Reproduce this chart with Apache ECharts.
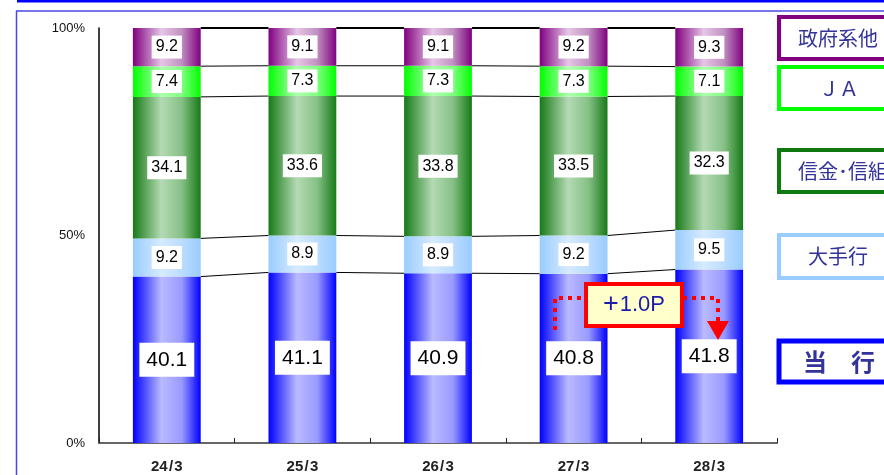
<!DOCTYPE html>
<html>
<head>
<meta charset="utf-8">
<script src="https://cdn.jsdelivr.net/npm/echarts@6/dist/echarts.min.js"></script>
<style>
  html, body { margin: 0; padding: 0; background: #fff; }
  #chart { width: 884px; height: 475px; }
</style>
</head>
<body>
<div id="chart"></div>
<script>
// Fiscal year-ends (category axis)
const categories = ['24/3', '25/3', '26/3', '27/3', '28/3'];

// Lending share by institution type (%), stacked bottom to top
const shareTogyo   = [40.1, 41.1, 40.9, 40.8, 41.8]; // 当行
const shareOote    = [9.2, 8.9, 8.9, 9.2, 9.5];      // 大手行
const shareShinkin = [34.1, 33.6, 33.8, 33.5, 32.3]; // 信金・信組
const shareJA      = [7.4, 7.3, 7.3, 7.3, 7.1];      // ＪＡ
const shareSeifu   = [9.2, 9.1, 9.1, 9.2, 9.3];      // 政府系他

const yTicks = [0, 50, 100];

const FONT = '"Liberation Sans", Arial, sans-serif';
const JFONT = '"Noto Sans CJK JP", sans-serif';

function cylinder(edge, light, mid) {
  return new echarts.graphic.LinearGradient(0, 0, 1, 0, [
    { offset: 0, color: edge },
    { offset: 0.42, color: light },
    { offset: 0.72, color: mid },
    { offset: 1, color: edge }
  ]);
}

const layers = [
  { name: '当行', data: shareTogyo, color: cylinder('#0000ff', '#babaff', '#9a9aff'), big: true },
  { name: '大手行', data: shareOote, color: cylinder('#99ccff', '#d6ebff', '#bcdcff') },
  { name: '信金・信組', data: shareShinkin, color: cylinder('#177a17', '#b4dab4', '#86c086') },
  { name: 'ＪＡ', data: shareJA, color: cylinder('#00ff00', '#b0ffb0', '#80ff80') },
  { name: '政府系他', data: shareSeifu, color: cylinder('#800080', '#e6c6e6', '#c090c0') }
];

// Cumulative tops of each layer, used for the connector lines between bars
const cumulative = [];
(function () {
  const run = categories.map(() => 0);
  layers.forEach(l => {
    l.data.forEach((v, i) => { run[i] += v; });
    cumulative.push(run.map(v => Math.round(v * 10) / 10));
  });
})();

const barSeries = layers.map(l => ({
  name: l.name,
  type: 'bar',
  stack: 'share',
  barWidth: '50%',
  data: l.data,
  itemStyle: { color: l.color },
  label: {
    show: true,
    position: 'inside',
    formatter: p => p.value.toFixed(1),
    backgroundColor: '#ffffff',
    color: '#000',
    fontFamily: FONT,
    fontSize: l.big ? 21 : 16,
    padding: l.big ? [7, 7, 6, 7] : [4, 4, 3, 4]
  },
  emphasis: { disabled: true }
}));

// Connector lines linking each layer boundary from one bar to the next
const connectorData = categories.slice(0, -1).map((c, i) => [i]);
const connectorSeries = {
  type: 'custom',
  silent: true,
  data: connectorData,
  renderItem: function (params, api) {
    const i = api.value(0);
    const half = api.size([1, 0])[0] * 0.25;
    const children = cumulative.map((cum, k) => {
      const a = api.coord([i, cum[i]]);
      const b = api.coord([i + 1, cum[i + 1]]);
      return {
        type: 'line',
        shape: { x1: a[0] + half, y1: a[1], x2: b[0] - half, y2: b[1] },
        style: { stroke: '#000', lineWidth: k === cumulative.length - 1 ? 2 : 1 }
      };
    });
    return { type: 'group', children: children };
  },
  z: 1
};

function legendBox(y, h, text, stroke, opts) {
  opts = opts || {};
  return [
    {
      type: 'rect',
      shape: { x: 779, y: y, width: 120, height: h },
      style: { fill: '#fff', stroke: stroke, lineWidth: opts.lw || 4 }
    },
    {
      type: 'text',
      x: opts.cx || 837, y: y + h / 2,
      style: {
        text: text,
        fill: '#333399',
        font: (opts.bold ? 'bold ' : '') + (opts.fs || 20) + 'px ' + JFONT,
        align: 'center',
        verticalAlign: 'middle'
      }
    }
  ];
}

const dotted = { stroke: '#ff0000', lineWidth: 4, lineDash: [4, 5], fill: null };

const graphics = [
  // page frame
  { type: 'line', shape: { x1: 17, y1: 1, x2: 884, y2: 1 }, style: { stroke: '#0000ff', lineWidth: 3 } },
  { type: 'line', shape: { x1: 16, y1: 11, x2: 884, y2: 11 }, style: { stroke: '#4848e0', lineWidth: 1.5 } },
  { type: 'line', shape: { x1: 16.5, y1: 11, x2: 16.5, y2: 475 }, style: { stroke: '#4848e0', lineWidth: 1.5 } },
  // legend boxes
  ...legendBox(17, 42, '政府系他', '#800080', { cx: 838 }),
  ...legendBox(67, 42, 'ＪＡ', '#00ff00', { cx: 839 }),
  ...legendBox(150, 42, '信金･信組', '#107810', { cx: 843 }),
  ...legendBox(235, 43, '大手行', '#99ccff', { cx: 838 }),
  ...legendBox(341, 41, '当　行', '#0000ff', { bold: true, fs: 24, lw: 5, cx: 839 }),
  // change annotation
  { type: 'polyline', shape: { points: [[555, 330], [555, 298], [585, 298]] }, style: dotted, z: 10 },
  { type: 'polyline', shape: { points: [[683, 298], [718, 298], [718, 322]] }, style: dotted, z: 10 },
  { type: 'polygon', shape: { points: [[707, 321], [729, 321], [718, 340]] }, style: { fill: '#ff0000' }, z: 10 },
  {
    type: 'rect', z: 11,
    shape: { x: 586, y: 284, width: 96, height: 42 },
    style: { fill: '#ffffcc', stroke: '#ff0000', lineWidth: 4 }
  },
  {
    type: 'text', z: 12, x: 634, y: 305,
    style: {
      text: '{p|+}{n|1.0P}',
      rich: {
        p: { fontFamily: FONT, fontSize: 27, fill: '#1c1ca8', padding: [0, 1, 0, 0] },
        n: { fontFamily: FONT, fontSize: 22, fill: '#1c1ca8' }
      },
      align: 'center', verticalAlign: 'middle'
    }
  }
];

const chart = echarts.init(document.getElementById('chart'), null, { renderer: 'canvas' });
chart.setOption({
  animation: false,
  backgroundColor: '#fff',
  grid: { left: 99, right: 107, top: 28, bottom: 32, containLabel: false },
  xAxis: {
    type: 'category',
    data: categories,
    boundaryGap: true,
    axisLine: { lineStyle: { color: '#666', width: 2 } },
    axisTick: { show: true, inside: true, length: 5, lineStyle: { color: '#222', width: 1 } },
    axisLabel: {
      margin: 16, fontFamily: FONT, fontSize: 15, fontWeight: 'bold', color: '#222',
      formatter: v => v.replace('/', ' / ').replace(/ /g, '\u200A')
    }
  },
  yAxis: {
    type: 'value',
    min: yTicks[0],
    max: yTicks[yTicks.length - 1],
    interval: yTicks[1] - yTicks[0],
    axisLine: { show: true, lineStyle: { color: '#000', width: 1.5 } },
    axisTick: { show: false },
    splitLine: { show: false },
    axisLabel: {
      margin: 14, formatter: '{value}%', padding: [6, 0, 0, 0],
      fontFamily: FONT, fontSize: 13, color: '#111'
    }
  },
  series: [...barSeries, connectorSeries],
  graphic: graphics
});
</script>
</body>
</html>
